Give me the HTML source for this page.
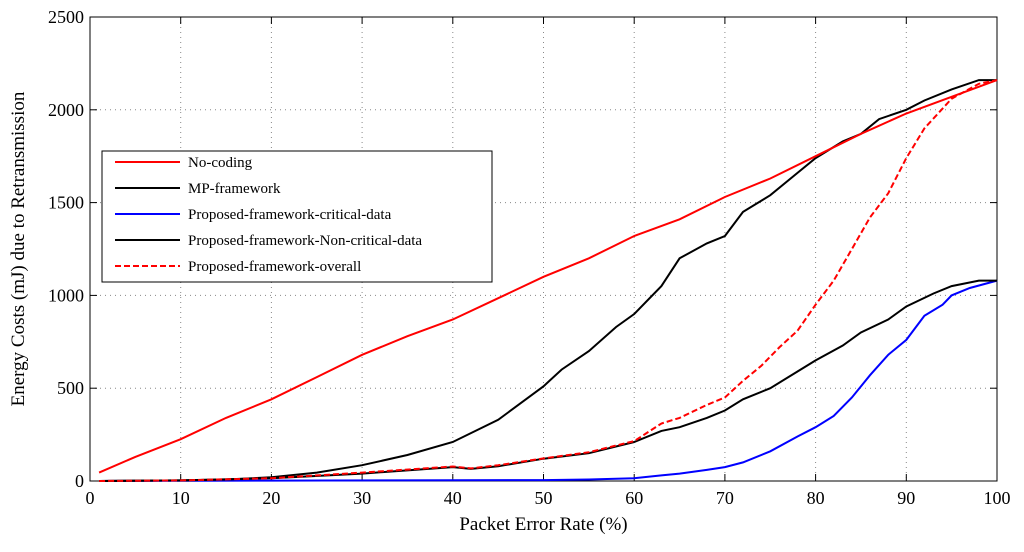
<!DOCTYPE html>
<html><head><meta charset="utf-8"><style>
body{margin:0;background:#fff}
svg text{font-family:"Liberation Serif",serif;fill:#000}
</style></head><body>
<svg id="c" width="1024" height="547"></svg>
<script>
const xTicks=[0,10,20,30,40,50,60,70,80,90,100];
const yTicks=[0,500,1000,1500,2000,2500];
const noCodingX=[1,5,10,15,20,25,30,35,40,45,50,55,60,65,70,75,80,85,90,95,100];
const noCodingY=[45,130,225,340,440,560,680,780,870,985,1100,1200,1320,1410,1530,1630,1750,1870,1980,2070,2160];
const mpX=[1,10,15,20,25,30,35,40,45,50,52,55,58,60,63,65,68,70,72,75,78,80,83,85,87,90,92,95,98,100];
const mpY=[0,3,8,20,45,85,140,210,330,510,600,700,830,900,1050,1200,1280,1320,1450,1540,1660,1740,1830,1870,1950,2000,2050,2110,2160,2160];
const nonCritX=[1,10,20,30,40,42,45,50,55,60,63,65,68,70,72,75,78,80,83,85,88,90,93,95,98,100];
const nonCritY=[0,3,15,40,75,65,80,120,150,210,270,290,340,380,440,500,590,650,730,800,870,940,1010,1050,1080,1080];
const overallX=[1,10,20,30,40,42,45,50,55,60,63,65,68,70,72,74,76,78,80,82,84,86,88,90,92,95,98,100];
const overallY=[0,3,15,45,78,68,85,122,155,215,310,340,410,450,540,620,720,810,950,1080,1250,1420,1550,1740,1900,2060,2140,2160];
const critX=[1,20,40,50,55,60,63,65,68,70,72,75,78,80,82,84,86,88,90,92,94,95,97,100];
const critY=[0,2,4,5,8,15,30,40,60,75,100,160,240,290,350,450,570,680,760,890,950,1000,1040,1080];

const svg=document.getElementById('c');const NS='http://www.w3.org/2000/svg';
const L=90,R=997,T=17,B=481;
const sx=v=>L+(v-0)/100*(R-L);const sy=v=>B-v/2500*(B-T);
function mk(t,a){const e=document.createElementNS(NS,t);for(const k in a)e.setAttribute(k,a[k]);svg.appendChild(e);return e;}
xTicks.forEach(v=>{const x=sx(v);
 if(v>0&&v<100){const g=mk('line',{x1:x,x2:x,y1:T,y2:B,stroke:'#888','stroke-dasharray':'1,4'});}
 const t1=mk('line',{x1:x,x2:x,y1:B,y2:B-7,stroke:'#000'});
 const t2=mk('line',{x1:x,x2:x,y1:T,y2:T+7,stroke:'#000'});
 const tx=mk('text',{x:x,y:B+23,'text-anchor':'middle','font-size':18});tx.textContent=v;});
yTicks.forEach(v=>{const y=sy(v);
 if(v>0&&v<2500){const g=mk('line',{x1:L,x2:R,y1:y,y2:y,stroke:'#888','stroke-dasharray':'1,4'});}
 const t1=mk('line',{x1:L,x2:L+7,y1:y,y2:y,stroke:'#000'});
 const t2=mk('line',{x1:R,x2:R-7,y1:y,y2:y,stroke:'#000'});
 const tx=mk('text',{x:L-6,y:y+6,'text-anchor':'end','font-size':18});tx.textContent=v;});
const fr=mk('rect',{x:L,y:T,width:R-L,height:B-T,fill:'none',stroke:'#000'});
function series(xs,ys,col,dash,name){const p=xs.map((x,i)=>sx(x).toFixed(1)+','+sy(ys[i]).toFixed(1)).join(' ');
 const e=mk('polyline',{points:p,fill:'none',stroke:col,'stroke-width':2,'stroke-dasharray':dash||'none'});}
series(critX,critY,'#00f','','series-critical-data');
series(nonCritX,nonCritY,'#000','','series-non-critical-data');
series(mpX,mpY,'#000','','series-mp-framework');
series(noCodingX,noCodingY,'#f00','','series-no-coding');
series(overallX,overallY,'#f00','6,3','series-overall');
const xl=mk('text',{x:(L+R)/2,y:530,'text-anchor':'middle','font-size':19});xl.textContent='Packet Error Rate (%)';
const yl=mk('text',{x:0,y:0,'text-anchor':'middle','font-size':19,transform:'translate(24,249) rotate(-90)'});yl.textContent='Energy Costs (mJ) due to Retransmission';
const lb=mk('rect',{x:102,y:151,width:390,height:131,fill:'#fff',stroke:'#000'});
const leg=[['No-coding','#f00',''],['MP-framework','#000',''],['Proposed-framework-critical-data','#00f',''],['Proposed-framework-Non-critical-data','#000',''],['Proposed-framework-overall','#f00','6,3']];
leg.forEach((d,i)=>{const y=162+i*26;
 const ln=mk('line',{x1:115,x2:180,y1:y,y2:y,stroke:d[1],'stroke-width':2,'stroke-dasharray':d[2]||'none'});
 const t=mk('text',{x:188,y:y+5,'font-size':15});t.textContent=d[0];});
</script>
</body></html>
